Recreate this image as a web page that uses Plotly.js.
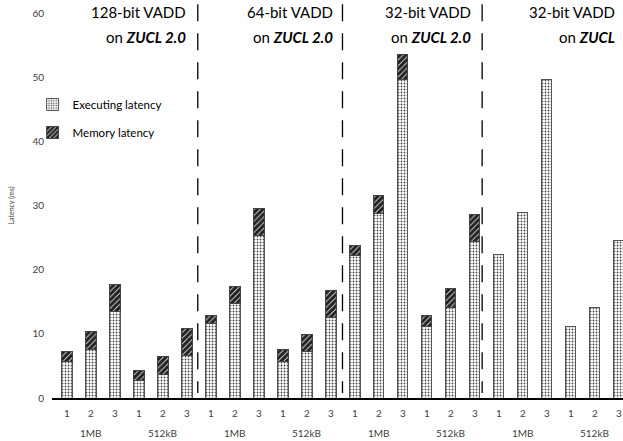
<!DOCTYPE html>
<html>
<head>
<meta charset="utf-8">
<script src="https://cdn.plot.ly/plotly-3.0.1.min.js"></script>
<style>html,body{margin:0;padding:0;background:#fff;}#chart{width:623px;height:441px;}</style>
</head>
<body>
<div id="chart"></div>
<script>
// ---- data ----
const configLabels = ['1','2','3','1','2','3','1','2','3','1','2','3','1','2','3','1','2','3','1','2','3','1','2','3'];
const sizeLabels = ['1MB','512kB','1MB','512kB','1MB','512kB','1MB','512kB'];
const panelTitles = ['128-bit VADD','64-bit VADD','32-bit VADD','32-bit VADD'];
const panelSubtitles = ['on <b><i>ZUCL 2.0</i></b>','on <b><i>ZUCL 2.0</i></b>','on <b><i>ZUCL 2.0</i></b>','on <b><i>ZUCL</i></b>'];
const executingLatency = [5.65,7.6,13.55, 2.8,3.6,6.7, 11.6,14.75,25.3, 5.65,7.2,12.5, 22.2,28.8,49.6, 11.2,14.1,24.45, 22.3,28.9,49.6, 11.2,14.1,24.5];
const memoryLatency = [1.55,2.7,4.15, 1.45,2.9,4.1, 1.3,2.55,4.2, 1.85,2.75,4.2, 1.5,2.8,3.9, 1.6,2.9,4.15, null,null,null, null,null,null];

const xIdx = configLabels.map((_, i) => i);
const FONT = 'Lato, sans-serif';

const traces = [
  {
    type: 'bar', name: 'Executing latency', x: xIdx, y: executingLatency,
    legendgroup: 'a',
    marker: {color: '#ffffff', line: {color: '#555555', width: 1},
      pattern: {shape: '.', fgcolor: '#444444', bgcolor: '#ffffff', size: 3, solidity: 0.28}}
  },
  {
    type: 'bar', name: 'Memory latency', x: xIdx, y: memoryLatency,
    legendgroup: 'b',
    marker: {color: '#ffffff', line: {color: '#444444', width: 1},
      pattern: {shape: '/', fgcolor: '#222222', bgcolor: '#ffffff', size: 4, solidity: 0.8}}
  }
];

const annotations = [];
// group (size) labels
sizeLabels.forEach((s, g) => {
  annotations.push({x: g * 3 + 1, y: -0.091, xref: 'x', yref: 'paper', text: s, showarrow: false,
    font: {family: FONT, size: 10, color: '#404040'}, xanchor: 'center', yanchor: 'middle'});
});
// panel titles
const titleRight = [5.03, 11.15, 16.93, 22.9];
panelTitles.forEach((t, i) => {
  annotations.push({x: titleRight[i], y: 1.003, xref: 'x', yref: 'paper', text: t, showarrow: false,
    font: {family: FONT, size: 15, color: '#000'}, xanchor: 'right', yanchor: 'middle'});
});
panelSubtitles.forEach((t, i) => {
  const last = i === panelSubtitles.length - 1;
  annotations.push({x: last ? 20.4 : titleRight[i], y: 0.938, xref: 'x', yref: 'paper', text: t, showarrow: false,
    font: {family: FONT, size: 15, color: '#000'}, xanchor: last ? 'left' : 'right', yanchor: 'middle'});
});

const dividers = [5.45, 11.48, 17.3];
const shapes = dividers.map(x => ({type: 'line', xref: 'x', yref: 'paper', x0: x, x1: x, y0: 1.023, y1: 0.013,
  line: {color: '#000', width: 1.3, dash: '17px,12px'}}));

const layout = {
  width: 623, height: 441,
  margin: {l: 52, r: 0, t: 13, b: 43},
  paper_bgcolor: '#fff', plot_bgcolor: '#fff',
  font: {family: FONT, color: '#404040'},
  barmode: 'stack', bargap: 0.58,
  showlegend: true,
  legend: {x: -0.034, y: 0.8, xanchor: 'left', yanchor: 'top', traceorder: 'grouped', tracegroupgap: 9,
    font: {family: FONT, size: 11.5, color: '#000'}, bgcolor: 'rgba(0,0,0,0)'},
  xaxis: {range: [-0.625, 23.17], tickmode: 'array', tickvals: xIdx, ticktext: configLabels,
    showgrid: false, zeroline: false, showline: true, linecolor: '#000', linewidth: 2,
    ticks: 'outside', ticklen: 5, tickcolor: 'rgba(0,0,0,0)',
    tickfont: {family: FONT, size: 10, color: '#404040'}, fixedrange: true},
  yaxis: {range: [0, 60], dtick: 10, showgrid: false, zeroline: false, showline: false,
    automargin: false, ticks: '', ticklabelstandoff: 7,
    tickfont: {family: FONT, size: 10, color: '#404040'},
    title: {text: 'Latency (ms)', font: {family: FONT, size: 7, color: '#404040'}, standoff: 16}},
  annotations: annotations,
  shapes: shapes
};

Plotly.newPlot('chart', traces, layout, {displayModeBar: false, staticPlot: true});
</script>
</body>
</html>
